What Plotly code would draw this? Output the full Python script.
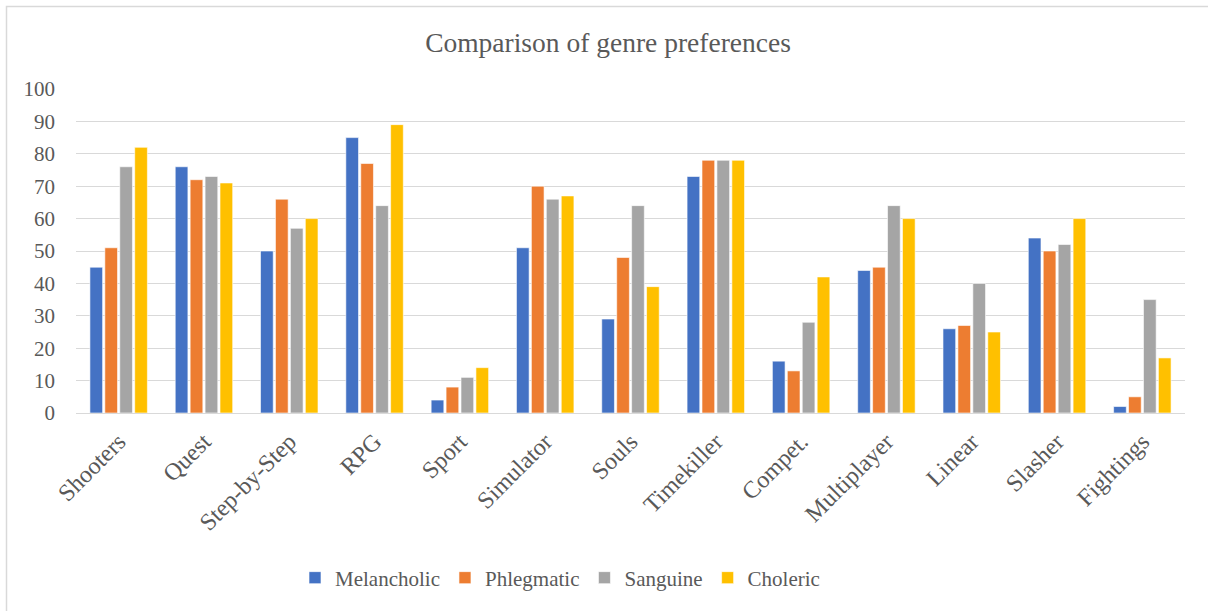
import plotly.graph_objects as go

categories = ["Shooters", "Quest", "Step-by-Step", "RPG", "Sport", "Simulator", "Souls",
              "Timekiller", "Compet.", "Multiplayer", "Linear", "Slasher", "Fightings"]
melancholic = [45, 76, 50, 85, 4, 51, 29, 73, 16, 44, 26, 54, 2]
phlegmatic = [51, 72, 66, 77, 8, 70, 48, 78, 13, 45, 27, 50, 5]
sanguine = [76, 73, 57, 64, 11, 66, 64, 78, 28, 64, 40, 52, 35]
choleric = [82, 71, 60, 89, 14, 67, 39, 78, 42, 60, 25, 60, 17]
y_ticks = [0, 10, 20, 30, 40, 50, 60, 70, 80, 90, 100]

series = [
    ("Melancholic", melancholic, "#4472C4"),
    ("Phlegmatic", phlegmatic, "#ED7D31"),
    ("Sanguine", sanguine, "#A5A5A5"),
    ("Choleric", choleric, "#FFC000"),
]

FONT = "Liberation Serif, Times New Roman, serif"
GRAY = "#595959"

fig = go.Figure()
for name, vals, color in series:
    fig.add_trace(go.Bar(x=categories, y=vals, name=name,
                         marker=dict(color=color, line=dict(color="white", width=0.6))))

W, H = 1208, 611
L, R, T, B = 76, 23, 89, 198
pw = W - L - R
ph = H - T - B

def px_x(p):
    return (p - L) / pw

def px_y(p):
    return (H - B - p) / ph

fig.update_layout(
    width=W, height=H,
    margin=dict(l=L, r=R, t=T, b=B, autoexpand=False),
    paper_bgcolor="white", plot_bgcolor="white",
    barmode="group", bargap=0.3, bargroupgap=0.15,
    font=dict(family=FONT, color=GRAY, size=21),
    title=dict(text="Comparison of genre preferences", x=608 / W, xanchor="center",
               y=1 - 42 / H, yanchor="middle", font=dict(size=27.5, color=GRAY, family=FONT)),
    legend=dict(orientation="h", x=px_x(560), xanchor="center", y=px_y(578), yanchor="middle",
                font=dict(size=21, color=GRAY, family=FONT), itemwidth=30, traceorder="normal"),
    xaxis=dict(tickangle=-45, showgrid=False, showline=True, linecolor="#d9d9d9", linewidth=1,
               ticks="", tickfont=dict(size=24, color=GRAY, family=FONT), ticklabelstandoff=4),
    yaxis=dict(range=[0, 100], tickvals=y_ticks, showgrid=True, gridcolor="#d9d9d9", gridwidth=1,
               zeroline=False, showline=False, ticks="",
               tickfont=dict(size=21, color=GRAY, family=FONT), ticklabelstandoff=20),
    shapes=[dict(type="rect", xref="paper", yref="paper",
                 x0=px_x(6.5), x1=px_x(1230), y0=px_y(640), y1=px_y(6.5),
                 line=dict(color="#d9d9d9", width=1.5), fillcolor="rgba(0,0,0,0)", layer="below")],
)

fig.write_html("out.html", config={"displayModeBar": False},
               post_script="document.body.style.margin='0';")
